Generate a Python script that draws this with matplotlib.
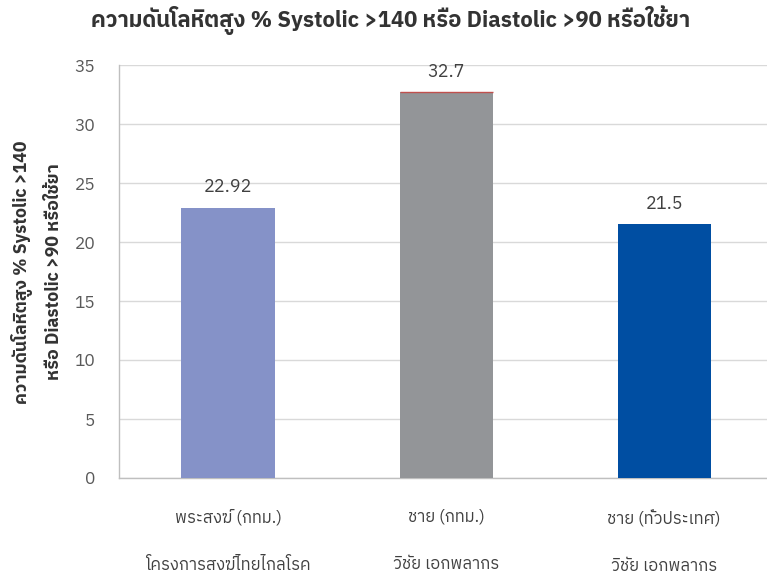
import matplotlib
matplotlib.use("Agg")
import matplotlib.pyplot as plt
from matplotlib import font_manager as fm
from matplotlib.ft2font import FT2Font

# Data
categories = ["พระสงฆ์ (กทม.)", "ชาย (กทม.)", "ชาย (ทั่วประเทศ)"]
sources = ["โครงการสงฆ์ไทยไกลโรค", "วิชัย เอกพลากร", "วิชัย เอกพลากร"]
values = [22.92, 32.7, 21.5]
value_labels = ["22.92", "32.7", "21.5"]
yticks = [0, 5, 10, 15, 20, 25, 30, 35]
title = "ความดันโลหิตสูง % Systolic >140 หรือ Diastolic >90 หรือใช้ยา"
ylabel = "ความดันโลหิตสูง % Systolic >140\nหรือ Diastolic >90 หรือใช้ยา"

bar_colors = ["#8592C8", "#939598", "#004EA2"]

# Find an installed family that has Thai glyphs
thai_families = []
for path in fm.findSystemFonts():
    try:
        if 0x0E01 in FT2Font(path).get_charmap():
            name = fm.FontProperties(fname=path).get_name()
            if name not in thai_families:
                thai_families.append(name)
    except Exception:
        pass
thai_families.sort(key=lambda n: (0 if "Thai" in n else 1, n))
families = thai_families[:1] + ["DejaVu Sans"]
plt.rcParams["font.family"] = families

fig = plt.figure(figsize=(7.67, 5.78), dpi=100)
W, H = 767, 578
ax = fig.add_axes([119 / W, (H - 478) / H, (W - 119) / W, (478 - 65) / H])

x = range(len(values))
ax.bar(x, values, width=0.427, color=bar_colors, zorder=3)
ax.hlines(values[1], 1 - 0.2135, 1 + 0.2135, color="#C0504D", lw=1.0, zorder=4)

for xi, v, lab in zip(x, values, value_labels):
    ax.annotate(lab, (xi, v), xytext=(0, 8), textcoords="offset points",
                ha="center", va="bottom", fontsize=13, color="#404040")

ax.set_xlim(-0.5, 2.472)
ax.set_ylim(0, 35)
ax.set_yticks(yticks)
ax.set_yticklabels([str(t) for t in yticks], fontsize=12.5, color="#595959")
ax.yaxis.grid(True, color="#D9D9D9", lw=1.0, zorder=0)
ax.set_axisbelow(True)
ax.tick_params(axis="y", length=0, pad=17)
ax.tick_params(axis="x", length=0)
ax.set_xticks(list(x))
ax.set_xticklabels([f"{c}\n\n{s}" for c, s in zip(categories, sources)],
                   fontsize=12, color="#404040", linespacing=1.6)
ax.tick_params(axis="x", pad=22)

for side in ["top", "right"]:
    ax.spines[side].set_visible(False)
for side in ["left", "bottom"]:
    ax.spines[side].set_color("#BFBFBF")
    ax.spines[side].set_linewidth(1.0)

fig.text(391 / W, 1 - 20 / H, title, ha="center", va="center",
         fontsize=15.8, fontweight="bold", color="#333333")
fig.text(37 / W, 1 - 272 / H, ylabel, ha="center", va="center", rotation=90,
         fontsize=12.8, fontweight="bold", color="#333333", linespacing=1.8)

fig.savefig("out.png", dpi=100, facecolor="white")
